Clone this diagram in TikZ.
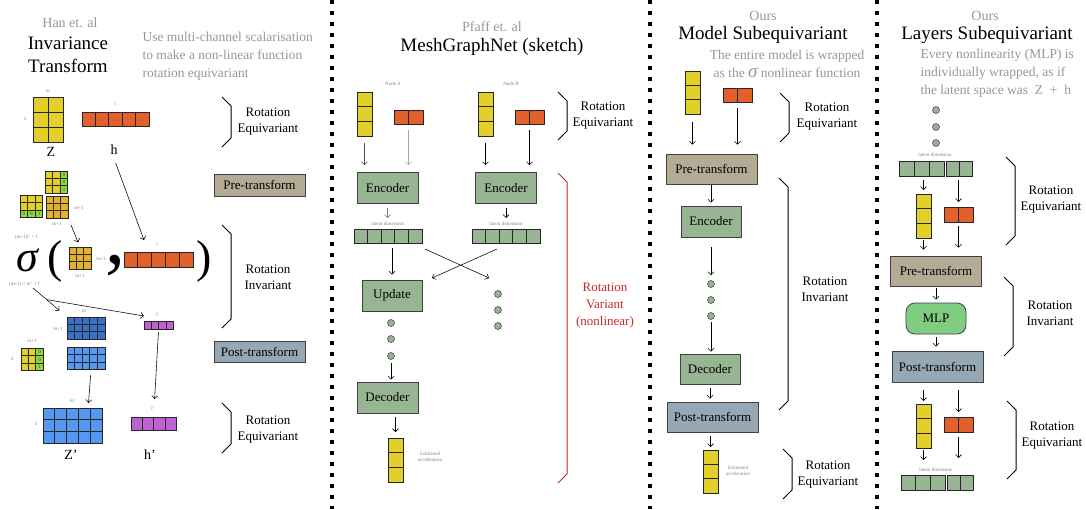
\documentclass[tikz,border=0pt]{standalone}
\usepackage{fontspec}
\setmainfont{Liberation Serif}
\usetikzlibrary{arrows.meta, positioning}

\definecolor{zyel}{RGB}{226,207,42}
\definecolor{zgold}{RGB}{226,178,44}
\definecolor{horange}{RGB}{226,96,44}
\definecolor{padgreen}{RGB}{140,218,60}
\definecolor{zblue}{RGB}{58,112,200}
\definecolor{lblue}{RGB}{86,152,240}
\definecolor{hpurp}{RGB}{190,98,210}
\definecolor{sage}{RGB}{152,181,147}
\definecolor{pretan}{RGB}{181,171,148}
\definecolor{postblue}{RGB}{150,168,179}
\definecolor{mlpgreen}{RGB}{128,204,128}
\definecolor{varred}{RGB}{200,40,40}
\definecolor{txtgray}{RGB}{150,150,150}

% block of cells: name, left, top, cols, rows, cell width, cell height, colour
\newcommand{\cellgrid}[8]{%
  \node[gridframe, anchor=north west, minimum width={#4*#6}, minimum height={#5*#7}] (#1) at (#2,#3) {};
  \foreach \i in {1,...,#4}{\foreach \j in {1,...,#5}{%
    \draw[cell, fill=#8] ({#2+(\i-1)*#6},{#3+(\j-1)*#7}) rectangle ++(#6,#7);}}%
}
% padding cell: left, top, width, height, value
\newcommand{\padcell}[5]{%
  \draw[cell, fill=padgreen] (#1,#2) rectangle ++(#3,#4);
  \node[padtxt] at ({#1+#3/2},{#2+#4/2}) {#5};}
% side bracket: colour, x, top, bottom
\newcommand{\sidebrace}[4][black]{%
  \draw[bracket, #1] (#2,#3) -- ({#2+9},{#3+9}) -- ({#2+9},{#4-9}) -- (#2,#4);}

\begin{document}
\begin{tikzpicture}[x=1pt, y=-1pt,
  gridframe/.style={inner sep=0pt, outer sep=0pt},
  cell/.style={draw=black!85, line width=0.7pt},
  padtxt/.style={font=\fontsize{5}{5}\selectfont, text=black!75, inner sep=0pt},
  dimlbl/.style={font=\fontsize{5}{6}\selectfont, text=gray, inner sep=0.5pt, align=center},
  cite/.style={font=\fontsize{14}{16}\selectfont, text=txtgray},
  heading/.style={font=\fontsize{19}{23}\selectfont, align=center},
  note/.style={font=\fontsize{13.5}{18}\selectfont, text=txtgray},
  tag/.style={font=\fontsize{13}{16}\selectfont, align=center},
  letter/.style={font=\fontsize{14}{16}\selectfont},
  blk/.style={draw=black!75, line width=0.8pt, inner sep=0pt, font=\fontsize{13}{15}\selectfont},
  encbox/.style={blk, fill=sage, minimum width=61, minimum height=31},
  prebox/.style={blk, fill=pretan, minimum width=91, minimum height=30},
  postbox/.style={blk, fill=postblue, minimum width=91, minimum height=30},
  mlpbox/.style={blk, fill=mlpgreen, rounded corners=9pt, minimum width=60, minimum height=31},
  dotc/.style={circle, fill=sage, draw=black!70, line width=0.6pt, inner sep=0pt, minimum size=7},
  arr/.style={-{Straight Barb[length=3pt, width=6pt]}, line width=0.55pt},
  bracket/.style={line width=1pt, line join=miter},
  divider/.style={line width=4pt, dash pattern=on 4pt off 7pt},
  ]
\useasboundingbox (0,0) rectangle (1086,509);

% panel dividers
\draw[divider] (332,0) -- (332,509);
\draw[divider] (650,0) -- (650,509);
\draw[divider] (877,0) -- (877,509);

% ---------------- Invariance transform
\node[cite] (hanref) at (70,23) {Han et. al};
\node[heading] (invtitle) at (68,55) {Invariance\\Transform};
\node[note, align=left, anchor=west] (invnote) at (139,56) {Use multi-channel scalarisation\\to make a non-linear function\\rotation equivariant};

% inputs
\cellgrid{zin}{33}{97}{2}{3}{15}{15}{zyel}
\node[dimlbl] (zinm) at (48,91) {m};
\node[dimlbl] (zin3) at (25,119) {3};
\node[letter] (zlbl) at (51,152) {Z};
\cellgrid{hin}{82}{112}{5}{1}{13.4}{14}{horange}
\node[dimlbl] (hinl) at (115,104) {l};
\node[letter] (hlbl) at (114,150) {h};

% pre-transform
\cellgrid{zpadc}{45}{171}{3}{3}{7.6}{7.4}{zyel}
\foreach \v/\y in {0/171,0/178.4,1/185.8}{\padcell{60.2}{\y}{7.6}{7.4}{\v}}
\cellgrid{zpadr}{20}{195}{3}{3}{7.6}{7.6}{zyel}
\foreach \v/\x in {0/20,0/27.6,1/35.2}{\padcell{\x}{210.2}{7.6}{7.6}{\v}}
\cellgrid{zgram}{46}{196}{3}{3}{7.4}{7.4}{zgold}
\node[dimlbl] (zgramr) at (79,208) {m+1};
\node[dimlbl] (zgramb) at (57,224) {m+1};

% sigma of the invariants
\node[font=\fontsize{44}{46}\selectfont\itshape, inner sep=0pt, text height=20pt, text depth=1pt] (sig) at (27,262) {σ};
\node[dimlbl] (sigtop) at (26,237) {(m+1)l' + l};
\node[dimlbl] (sigbot) at (25,284) {(m+1) × m' + l'};
\node[font=\fontsize{46}{48}\selectfont, inner sep=0pt] (lpar) at (55,261) {(};
\node[font=\fontsize{46}{48}\selectfont, inner sep=0pt] (rpar) at (204,261) {)};
\node[font=\fontsize{80}{80}\selectfont, inner sep=0pt] (comma) at (115,266) {,};
\cellgrid{zsig}{69}{247}{3}{3}{7.4}{7.4}{zgold}
\node[dimlbl] (zsigr) at (101,259) {m+1};
\node[dimlbl] (zsigb) at (80,276) {m+1};
\cellgrid{sigh}{124}{252}{5}{1}{13.8}{15}{horange}
\node[dimlbl] (sighl) at (157,245) {l};

\coordinate (htip) at (144,240);
\coordinate (sigout) at (33,288);
\draw[arr, shorten <=5pt] (hlbl.south) -- (htip);
\draw[arr, shorten <=7pt, shorten >=5pt] (zgram.south east) -- (zsig.north);

% post-transform
\cellgrid{zrot}{67}{317}{5}{3}{7.6}{7.4}{zblue}
\node[dimlbl] (zrotm) at (85,311) {m'};
\node[dimlbl] (zrotl) at (58,329) {m+1};
\cellgrid{zlight}{67}{347}{5}{3}{7.6}{7.6}{lblue}
\cellgrid{zpadc2}{21}{348}{3}{3}{7.4}{7.6}{zyel}
\foreach \v/\y in {0/348,0/355.6,1/363.2}{\padcell{35.8}{\y}{7.4}{7.6}{\v}}
\node[dimlbl] (zpadm) at (32,341) {m+1};
\node[dimlbl] (zpad3) at (12,359) {3};
\cellgrid{hrot}{144}{321}{4}{1}{7.3}{8}{hpurp}
\node[dimlbl] (hrotl) at (158,315) {l'};
\draw[arr, shorten >=10pt] (sigout) -- coordinate[pos=0.4] (sigsplit) (zrot.north west);
\draw[arr] (sigsplit) -- ([yshift=5pt]hrot.north west);

% outputs
\cellgrid{zout}{43}{408}{5}{3}{11.8}{11.7}{lblue}
\node[dimlbl] (zoutm) at (73,401) {m'};
\node[dimlbl] (zout3) at (36,424) {3};
\node[letter] (zplbl) at (71,455) {Z'};
\cellgrid{hout}{131}{417}{4}{1}{11.3}{13}{hpurp}
\node[dimlbl] (houtl) at (153,409) {l'};
\node[letter] (hplbl) at (150,455) {h'};
\draw[arr, shorten <=5pt] ([xshift=5pt]zlight.south) -- ([xshift=16pt, yshift=5pt]zout.north);
\draw[arr, shorten <=3pt, shorten >=18pt] (hrot.south) -- (hout.north);

% stages
\sidebrace{222}{97}{147}
\node[tag] (eq1a) at (268,122) {Rotation\\Equivariant};
\node[prebox, minimum height=22] (pre1) at (259.5,185) {Pre-transform};
\sidebrace{222}{225}{328}
\node[tag] (inv1) at (268,277) {Rotation\\Invariant};
\node[postbox, minimum height=21] (post1) at (259.5,351.5) {Post-transform};
\sidebrace{222}{403}{453}
\node[tag] (eq1b) at (268,430) {Rotation\\Equivariant};

% ---------------- MeshGraphNet
\node[cite] (pfaffref) at (492,27) {Pfaff et. al};
\node[heading] (mgntitle) at (492,47) {MeshGraphNet (sketch)};
\node[dimlbl] (nodea) at (393,84) {Node A};
\node[dimlbl] (nodeb) at (511,84) {Node B};
\cellgrid{yA}{357}{92}{1}{3}{15}{14.7}{zyel}
\cellgrid{oA}{394}{110}{2}{1}{14.5}{14}{horange}
\cellgrid{yB}{478}{92}{1}{3}{15}{14.7}{zyel}
\cellgrid{oB}{515}{110}{2}{1}{14.5}{14}{horange}
\sidebrace{558}{92}{140}
\node[tag] (eq2) at (603,116) {Rotation\\Equivariant};

\node[encbox] (encA) at (387.5,188) {Encoder};
\node[encbox] (encB) at (506,188) {Encoder};
\draw[arr, black!70, shorten <=7pt, shorten >=7pt] (yA.south) -- (yA.south |- encA.north);
\draw[arr, gray!70, shorten <=6pt, shorten >=7pt] (oA.south) -- (oA.south |- encA.north);
\draw[arr, shorten <=7pt, shorten >=7pt] (yB.south) -- (yB.south |- encB.north);
\draw[arr, shorten <=6pt, shorten >=7pt] (oB.south) -- (oB.south |- encB.north);

\node[dimlbl] (latAl) at (388,224) {latent dimension};
\node[dimlbl] (latBl) at (506,224) {latent dimension};
\cellgrid{latA}{354}{229}{5}{1}{13.6}{14}{sage}
\cellgrid{latB}{472}{229}{5}{1}{13.6}{14}{sage}
\draw[arr, gray, shorten <=4pt, shorten >=11pt] (encA.south) -- (encA.south |- latA.north);
\draw[arr, shorten <=4pt, shorten >=11pt] (encB.south) -- (encB.south |- latB.north);

\node[encbox, minimum width=60] (updA) at (392,295.5) {Update};
\draw[arr, shorten <=5pt, shorten >=5pt] (updA.north |- latA.south) -- (updA.north);
\coordinate (crossA) at (489,278);
\coordinate (crossB) at (432,278);
\draw[arr] ([xshift=3pt, yshift=-6pt]latA.south east) -- (crossA);
\draw[arr] ([xshift=25pt, yshift=-6pt]latB.south west) -- (crossB);

\node[dotc] (dA1) at (391,323) {};
\node[dotc] (dA2) at (391,339) {};
\node[dotc] (dA3) at (391,356) {};
\node[dotc] (dB1) at (498,294) {};
\node[dotc] (dB2) at (498,310) {};
\node[dotc] (dB3) at (498,326) {};

\node[encbox] (decA) at (387.5,397.5) {Decoder};
\draw[arr, shorten <=3pt, shorten >=2pt] (dA3) -- (dA3 |- decA.north);
\cellgrid{outA}{388}{438}{1}{3}{15}{14.7}{zyel}
\draw[arr, shorten <=4pt, shorten >=6pt] (outA.north |- decA.south) -- (outA.north);
\node[dimlbl] (accA) at (430,457) {Estimated\\acceleration};

\sidebrace[varred]{558}{173}{483}
\node[tag, text=varred, font=\fontsize{13}{17}\selectfont] (var2) at (605,306) {Rotation\\Variant\\(nonlinear)};

% ---------------- Model subequivariant
\node[cite] (ours3) at (763,16) {Ours};
\node[heading] (modtitle) at (763,35) {Model Subequivariant};
\node[note, align=center] (modnote) at (787,63.5) {The entire model is wrapped\\as the {\fontsize{19}{18}\selectfont\itshape σ} nonlinear function};
\cellgrid{yC}{685}{71}{1}{3}{15}{14.3}{zyel}
\cellgrid{oC}{723}{88}{2}{1}{14.5}{14}{horange}
\sidebrace{780}{93}{142}
\node[tag] (eq3a) at (827,117) {Rotation\\Equivariant};

\node[prebox] (preC) at (711.5,169) {Pre-transform};
\draw[arr, shorten <=8pt, shorten >=9pt] (yC.south) -- (yC.south |- preC.north);
\draw[arr, shorten <=6pt, shorten >=9pt] (oC.south) -- (oC.south |- preC.north);
\node[encbox, minimum width=60] (encC) at (711,221.5) {Encoder};
\draw[arr, shorten <=1pt, shorten >=3pt] (encC.north |- preC.south) -- (encC.north);
\node[dotc] (dC1) at (711,284) {};
\node[dotc] (dC2) at (711,300) {};
\node[dotc] (dC3) at (711,316) {};
\draw[arr, shorten <=10pt, shorten >=5pt] (encC.south) -- (dC1);
\node[encbox, minimum width=60, minimum height=30] (decC) at (710,369) {Decoder};
\draw[arr, shorten <=2pt, shorten >=2pt] (dC3) -- (dC3 |- decC.north);
\node[postbox] (postC) at (712.5,417) {Post-transform};
\draw[arr, shorten <=4pt, shorten >=3pt] (decC.south) -- (decC.south |- postC.north);
\cellgrid{yCo}{703}{450}{1}{3}{15}{14.3}{zyel}
\draw[arr, shorten <=4pt, shorten >=3pt] (yCo.north |- postC.south) -- (yCo.north);
\node[dimlbl] (accC) at (738,471) {Estimated\\acceleration};

\sidebrace{779}{178}{410}
\node[tag] (inv3) at (825,289) {Rotation\\Invariant};
\sidebrace{783}{449}{499}
\node[tag] (eq3b) at (828,475) {Rotation\\Equivariant};

% ---------------- Layers subequivariant
\node[cite] (ours4) at (985,16) {Ours};
\node[heading] (laytitle) at (987,35) {Layers Subequivariant};
\node[note, align=left, anchor=west] (laynote) at (917,73.5) {Every nonlinearity (MLP) is\\individually wrapped, as if\\the latent space was \ Z \ + \ h};
\node[dotc] (dD1) at (936,110) {};
\node[dotc] (dD2) at (936,127) {};
\node[dotc] (dD3) at (936,143) {};
\node[dimlbl] (latDl) at (935,155) {latent dimension};
\cellgrid{latD1}{899}{161}{3}{1}{15}{15}{sage}
\cellgrid{latD2}{946}{161}{2}{1}{13}{15}{sage}
\cellgrid{yD}{916}{194}{1}{3}{15}{14.7}{zyel}
\cellgrid{oD}{944}{207}{2}{1}{14.5}{15}{horange}
\draw[arr, shorten <=4pt, shorten >=4pt] (yD.north |- latD1.south) -- (yD.north);
\draw[arr, shorten <=4pt, shorten >=5pt] (oD.north |- latD2.south) -- (oD.north);

\node[prebox] (preD) at (936,271) {Pre-transform};
\draw[arr, shorten <=2pt, shorten >=6pt] (yD.south) -- (yD.south |- preD.north);
\draw[arr, shorten <=4pt, shorten >=8pt] (oD.south) -- (oD.south |- preD.north);
\node[mlpbox] (mlp) at (936,318.5) {MLP};
\draw[arr, shorten <=2pt, shorten >=3pt] (preD) -- (mlp);
\node[postbox, minimum height=31] (postD) at (937.5,366.5) {Post-transform};
\draw[arr, shorten <=3pt, shorten >=4pt] (mlp.south) -- (mlp.south |- postD.north);

\cellgrid{yD2}{916}{404}{1}{3}{15}{14.7}{zyel}
\cellgrid{oD2}{944}{417}{2}{1}{14.5}{15}{horange}
\draw[arr, shorten <=8pt, shorten >=3pt] (yD2.north |- postD.south) -- (yD2.north);
\draw[arr, shorten <=8pt, shorten >=5pt] (oD2.north |- postD.south) -- (oD2.north);
\node[dimlbl] (latEl) at (936,470) {latent dimension};
\cellgrid{latE1}{901}{475}{3}{1}{14.7}{15}{sage}
\cellgrid{latE2}{947}{475}{2}{1}{13}{15}{sage}
\draw[arr, shorten <=2pt, shorten >=15pt] (yD2.south) -- (yD2.south |- latE1.north);
\draw[arr, shorten <=5pt, shorten >=17pt] (oD2.south) -- (oD2.south |- latE2.north);

\sidebrace{1006}{157}{245}
\node[tag] (eq4a) at (1051,200) {Rotation\\Equivariant};
\sidebrace{1004}{277}{356}
\node[tag] (inv4) at (1050,313) {Rotation\\Invariant};
\sidebrace{1007}{401}{479}
\node[tag] (eq4b) at (1052,436) {Rotation\\Equivariant};
\end{tikzpicture}
\end{document}
